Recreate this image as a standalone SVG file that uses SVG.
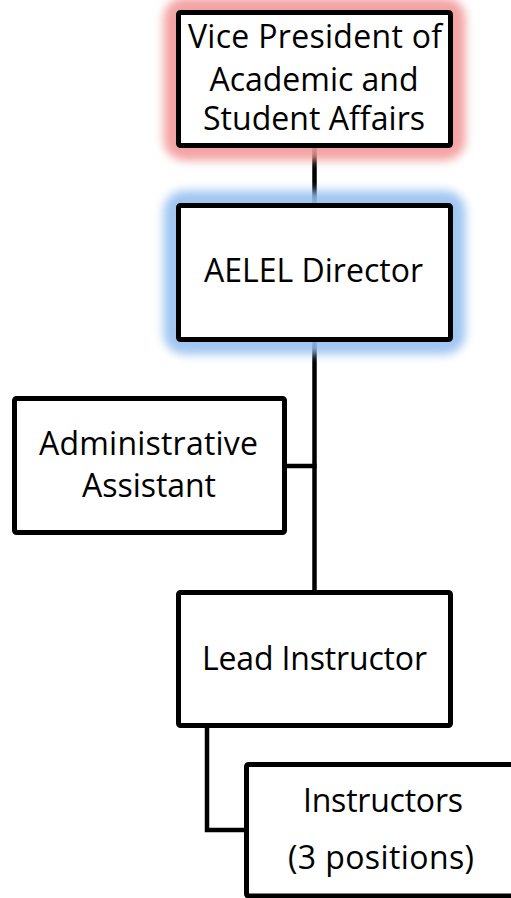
<svg xmlns="http://www.w3.org/2000/svg" width="511" height="898" viewBox="0 0 511 898">
<style>
.box{fill:#fff;stroke:#000;stroke-width:5;}
.t{font-family:"Open Sans","Liberation Sans",sans-serif;font-size:32px;fill:#000;text-anchor:middle;}
.c{stroke:#000;stroke-width:4.5;fill:none;}
.glow{fill:none;stroke-width:30;filter:url(#blur);}
</style>
<defs>
<filter id="blur" x="-20%" y="-40%" width="140%" height="180%"><feGaussianBlur stdDeviation="5"/></filter>
</defs>
<rect width="511" height="898" fill="#fff"/>
<g id="connectors">
<line class="c" x1="314.5" y1="146" x2="314.5" y2="206"/>
<line class="c" x1="314.5" y1="340" x2="314.5" y2="593"/>
<line class="c" x1="285" y1="466" x2="316.5" y2="466"/>
<path class="c" d="M207 726 V830 H248" stroke-width="5"/>
</g>
<g id="vp">
<rect class="glow" x="178.5" y="12.5" width="272" height="133" rx="6" stroke="#f29a9a" opacity="0.9"/>
<rect class="box" x="178.5" y="12.5" width="272" height="133" rx="2"/>
<text class="t" x="315" y="48" textLength="254">Vice President of</text>
<text class="t" x="314" y="91" textLength="209">Academic and</text>
<text class="t" x="314" y="130" textLength="222">Student Affairs</text>
</g>
<g id="director">
<rect class="glow" x="178.5" y="205.5" width="272" height="134" rx="6" stroke="#96c0f0" opacity="0.9"/>
<rect class="box" x="178.5" y="205.5" width="272" height="134" rx="2"/>
<text class="t" x="313.5" y="282" textLength="219">AELEL Director</text>
</g>
<g id="admin">
<rect class="box" x="14.5" y="398.5" width="270" height="134" rx="2"/>
<text class="t" x="148.5" y="455" textLength="219">Administrative</text>
<text class="t" x="149" y="497" textLength="134">Assistant</text>
</g>
<g id="lead">
<rect class="box" x="178.5" y="592.5" width="272" height="133" rx="2"/>
<text class="t" x="314.5" y="670" textLength="225">Lead Instructor</text>
</g>
<g id="instructors">
<rect class="box" x="246.5" y="764.5" width="272" height="131.5" rx="2"/>
<text class="t" x="383" y="812" textLength="160">Instructors</text>
<text class="t" x="381" y="869" textLength="186">(3 positions)</text>
</g>
</svg>
